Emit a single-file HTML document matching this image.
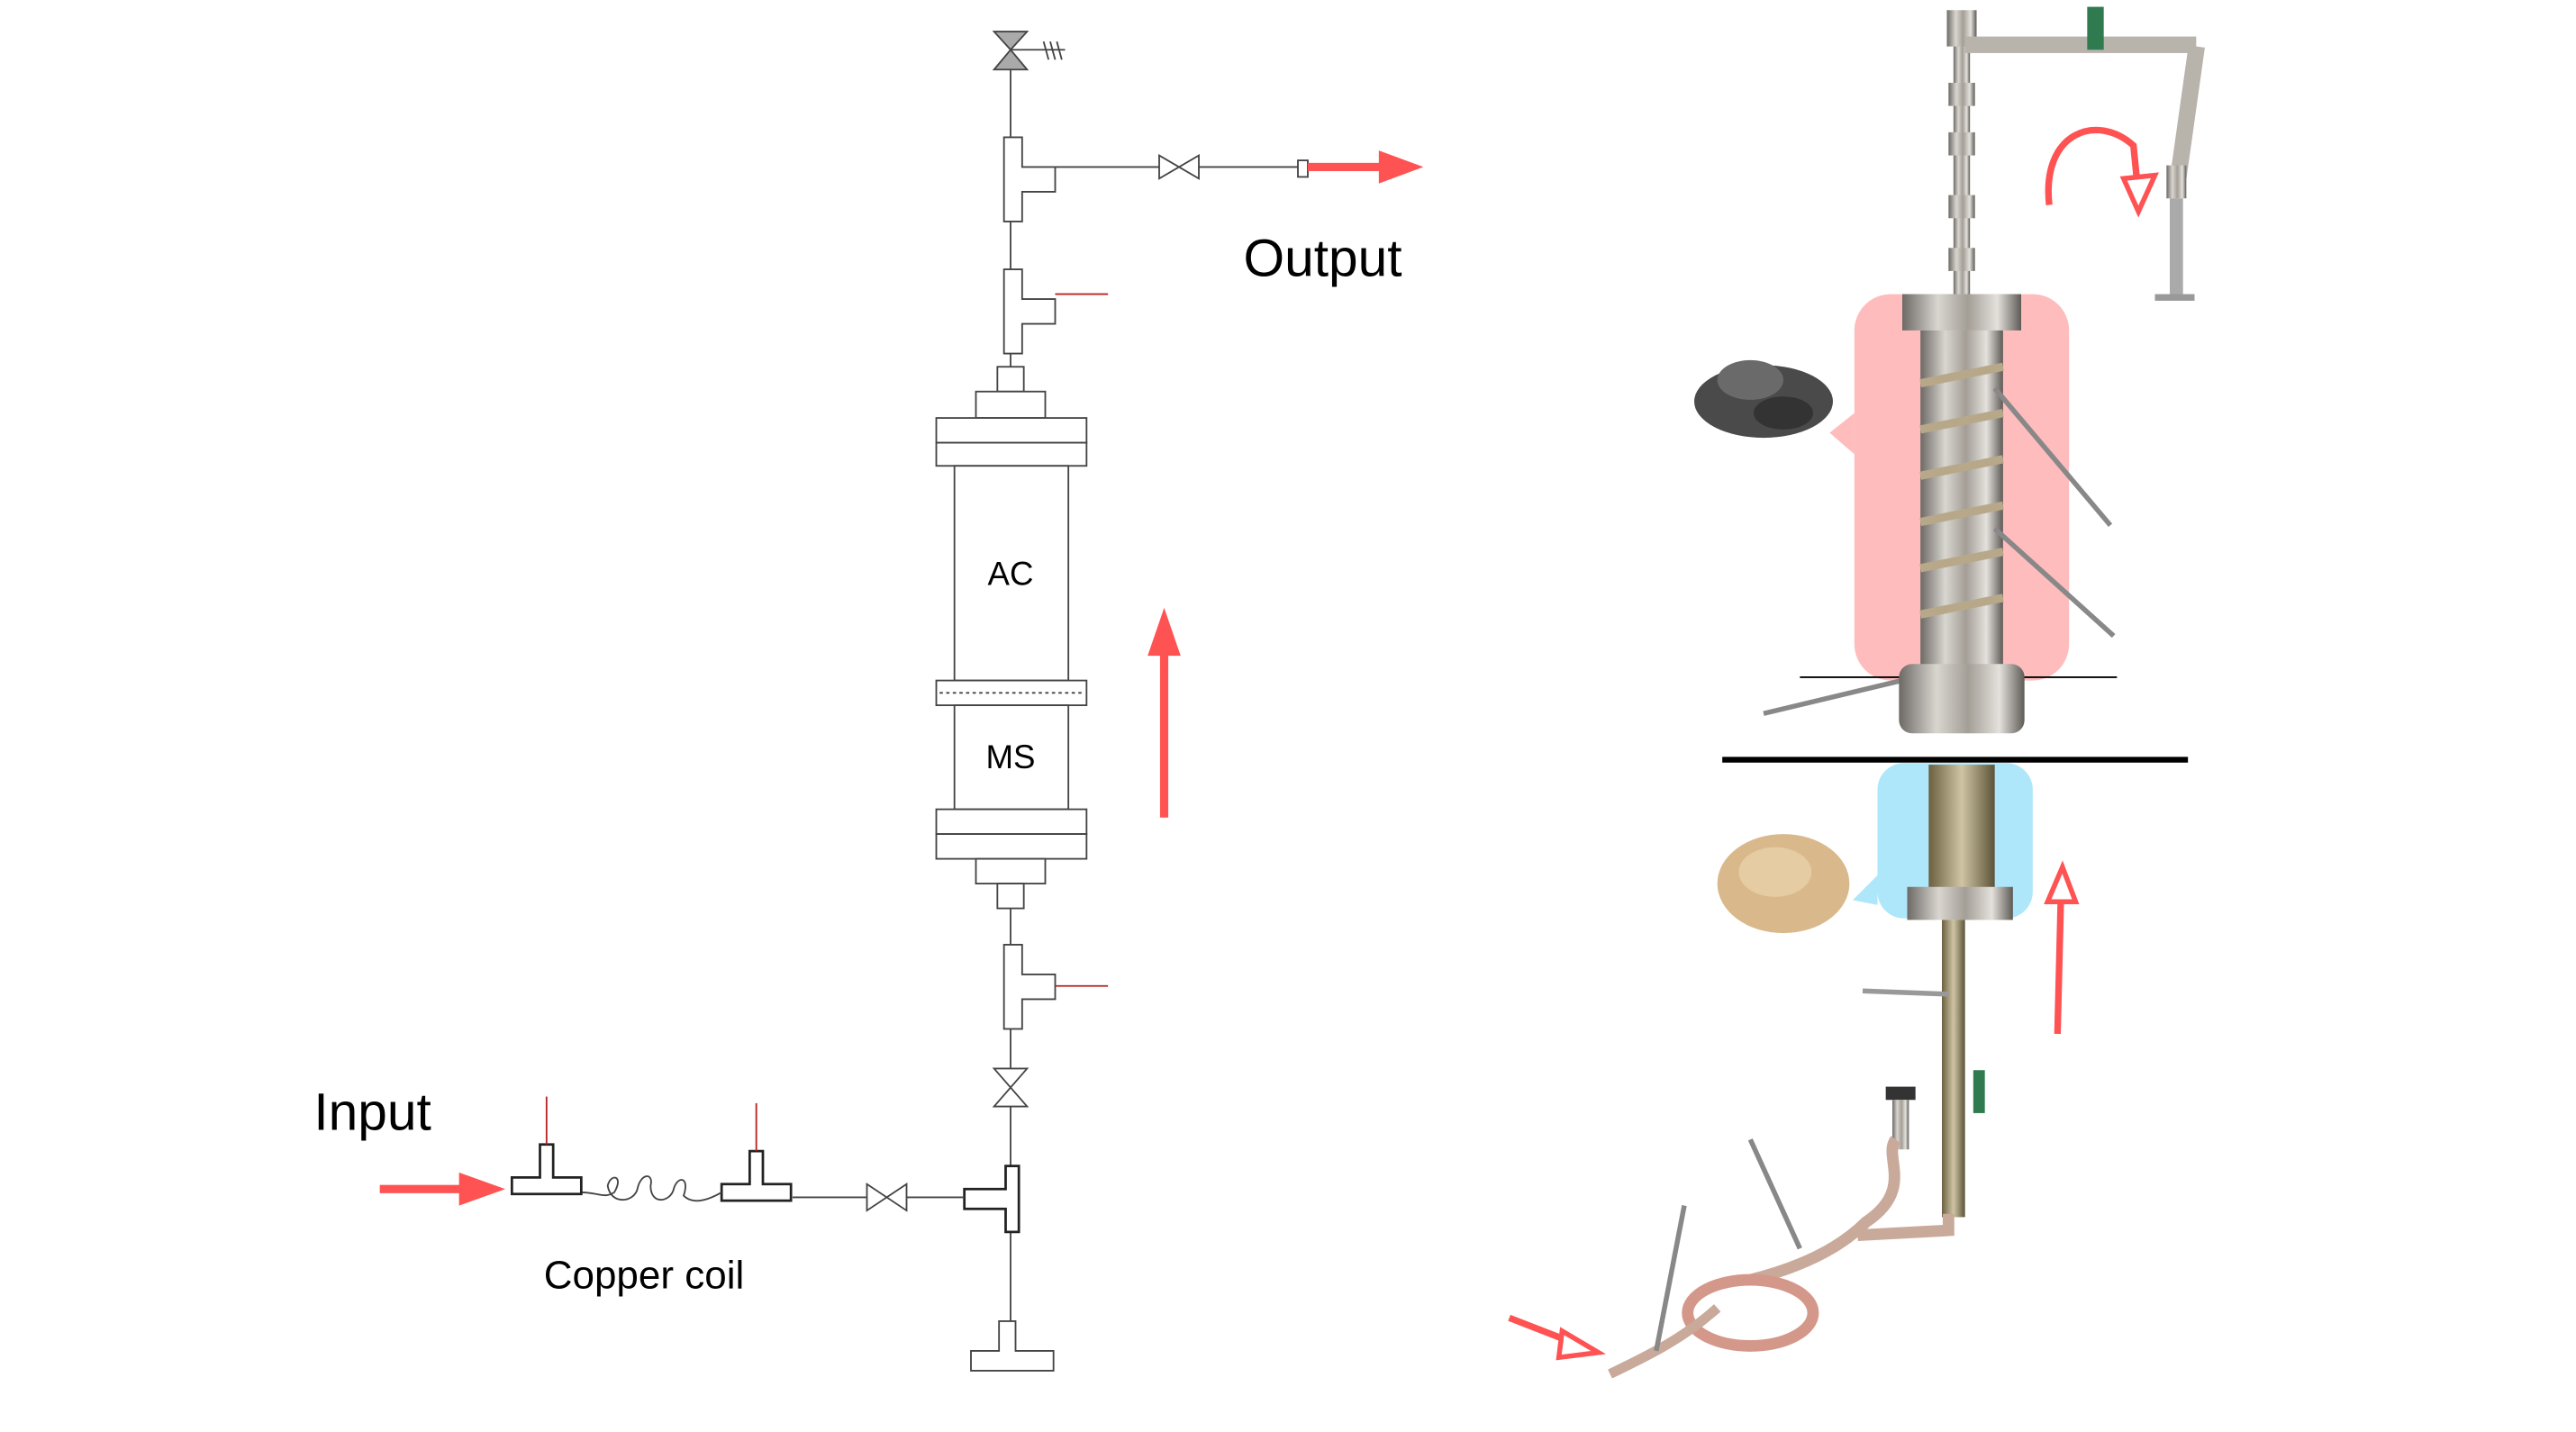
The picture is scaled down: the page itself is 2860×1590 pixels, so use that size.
<!DOCTYPE html>
<html><head><meta charset="utf-8">
<style>
html,body{margin:0;padding:0;background:#fff;}
svg{display:block;}
text{font-family:"Liberation Sans",sans-serif;}
</style></head>
<body>
<svg width="2860" height="1590" viewBox="0 0 1560 867" xmlns="http://www.w3.org/2000/svg">
<defs>
<linearGradient id="steel" x1="0" x2="1">
<stop offset="0" stop-color="#6d6a66"/><stop offset="0.3" stop-color="#d9d6d0"/><stop offset="0.55" stop-color="#a39e96"/><stop offset="0.8" stop-color="#e4e1dc"/><stop offset="1" stop-color="#5e5a55"/>
</linearGradient>
<linearGradient id="brass" x1="0" x2="1">
<stop offset="0" stop-color="#6b6040"/><stop offset="0.5" stop-color="#cfc5a5"/><stop offset="1" stop-color="#5d5438"/>
</linearGradient>
</defs>

<g fill="#fff" stroke="#444" stroke-width="1">
<!-- main vertical line -->
<line x1="612" y1="42" x2="612" y2="800"/>
<!-- top grey valve -->
<g>
<polygon points="602,19 622,19 612,30" fill="#aaa"/>
<polygon points="602,42 622,42 612,30" fill="#aaa"/>
<line x1="612" y1="30" x2="645" y2="30"/>
<line x1="632" y1="25" x2="635" y2="36"/><line x1="636" y1="25" x2="639" y2="36"/><line x1="640" y1="25" x2="643" y2="36"/>
</g>
<!-- T output -->
<path d="M608,83 h11 v18 h20 v15 h-20 v18 h-11 z"/>
<line x1="639" y1="101" x2="702" y2="101"/>
<g><polygon points="702,94 726,108 726,94 702,108"/></g>
<line x1="726" y1="101" x2="786" y2="101"/>
<rect x="786" y="97" width="6" height="10"/>
<g stroke="none" fill="#ff5252">
<rect x="792" y="98.5" width="50" height="5"/><polygon points="835,91 862,101 835,111"/>
</g>
<text x="753" y="167" font-size="32" fill="#000" stroke="none">Output</text>
<!-- T thermocouple top -->
<path d="M608,163 h11 v18 h20 v15 h-20 v18 h-11 z"/>
<line x1="639" y1="178" x2="671" y2="178" stroke="#b22"/>
<!-- column -->
<rect x="604" y="222" width="16" height="15"/>
<rect x="591" y="237" width="42" height="16"/>
<rect x="567" y="253" width="91" height="15"/>
<rect x="567" y="268" width="91" height="14"/>
<rect x="578" y="282" width="69" height="130"/>
<text x="612" y="354" font-size="20" text-anchor="middle" fill="#000" stroke="none">AC</text>
<rect x="567" y="412" width="91" height="15"/>
<line x1="569" y1="419.5" x2="656" y2="419.5" stroke-dasharray="2,2"/>
<rect x="578" y="427" width="69" height="63"/>
<text x="612" y="465" font-size="20" text-anchor="middle" fill="#000" stroke="none">MS</text>
<rect x="567" y="490" width="91" height="15"/>
<rect x="567" y="505" width="91" height="15"/>
<rect x="591" y="520" width="42" height="15"/>
<rect x="604" y="535" width="16" height="15"/>
<!-- bottom sensor T -->
<path d="M608,572 h11 v18 h20 v15 h-20 v18 h-11 z"/>
<line x1="639" y1="597" x2="671" y2="597" stroke="#b22"/>
<g><polygon points="602,647 622,647 602,670 622,670"/></g>
<!-- T inlet -->
<path d="M609,706 h8 v40 h-8 v-14 h-25 v-12 h25 z" stroke="#222" stroke-width="1.5"/>
<path d="M605,800 h10 v18 h23 v12 h-50 v-12 h17 z"/>
<!-- flow arrow -->
<g stroke="none" fill="#ff5252">
<rect x="702.5" y="392" width="5" height="103"/><polygon points="695,397 705,368 715,397"/>
</g>
<!-- input line -->
<line x1="549" y1="725" x2="584" y2="725"/>
<g><polygon points="525,717 549,733 549,717 525,733"/></g>
<line x1="480" y1="725" x2="525" y2="725"/>
<path d="M454,697 h8 v20 h17 v10 h-42 v-10 h17 z" stroke="#222" stroke-width="1.5"/>
<line x1="458" y1="668" x2="458" y2="697" stroke="#b22"/>
<path d="M352,722 C362,722 366,726 372,722 C378,712 370,710 368,718 C370,730 384,728 386,720 C388,710 396,710 394,718 C394,730 406,728 408,720 C410,712 418,712 414,724 C420,730 430,726 437,722" fill="none"/>
<path d="M327,693 h8 v20 h17 v10 h-42 v-10 h17 z" stroke="#222" stroke-width="1.5"/>
<line x1="331" y1="664" x2="331" y2="693" stroke="#b22"/>
<g stroke="none" fill="#ff5252">
<rect x="230" y="717.5" width="52" height="5"/><polygon points="278,710 306,720 278,730"/>
</g>
<text x="190" y="684" font-size="32" fill="#000" stroke="none">Input</text>
<text x="390" y="780" font-size="24" text-anchor="middle" fill="#000" stroke="none">Copper coil</text>
</g>

<!-- Photo panel -->
<g>
<rect x="1123" y="178" width="130" height="234" rx="22" fill="#ffbcbc"/>
<polygon points="1123,250 1108,262 1123,275" fill="#ffbcbc"/>
<rect x="1137" y="462" width="94" height="94" rx="16" fill="#aee6fa"/>
<polygon points="1137,530 1122,545 1137,548" fill="#aee6fa"/>
<line x1="1090" y1="410" x2="1282" y2="410" stroke="#000" stroke-width="1"/>
<line x1="1043" y1="460" x2="1325" y2="460" stroke="#000" stroke-width="3.5"/>
<!-- top tubing -->
<rect x="1183" y="10" width="10" height="170" fill="url(#steel)"/>
<rect x="1179" y="6" width="18" height="22" fill="url(#steel)"/>
<rect x="1180" y="50" width="16" height="14" fill="url(#steel)"/>
<rect x="1180" y="80" width="16" height="14" fill="url(#steel)"/>
<rect x="1180" y="118" width="16" height="14" fill="url(#steel)"/>
<rect x="1180" y="150" width="16" height="14" fill="url(#steel)"/>
<rect x="1190" y="22" width="140" height="10" fill="#b8b3ab"/>
<rect x="1264" y="4" width="10" height="26" fill="#2f7a4e"/>
<rect x="1325" y="28" width="10" height="80" fill="#b8b3ab" transform="rotate(8 1330 30)"/>
<rect x="1312" y="100" width="12" height="20" fill="url(#steel)"/>
<rect x="1314" y="120" width="8" height="60" fill="#aaa"/>
<rect x="1305" y="178" width="24" height="4" fill="#999"/>
<path d="M1241,124 C1236,80 1270,68 1292,88 L1294,108" fill="none" stroke="#ff5252" stroke-width="4"/>
<polygon points="1286,108 1305,106 1295,128" fill="#fff" stroke="#ff5252" stroke-width="3"/>
<!-- column -->
<rect x="1152" y="178" width="72" height="22" fill="url(#steel)"/>
<rect x="1163" y="200" width="50" height="205" fill="url(#steel)"/>
<g stroke="#b8a88a" stroke-width="5" fill="none">
<path d="M1163,232 L1213,222"/><path d="M1163,260 L1213,250"/><path d="M1163,288 L1213,278"/><path d="M1163,316 L1213,306"/><path d="M1163,344 L1213,334"/><path d="M1163,372 L1213,362"/>
</g>
<line x1="1208" y1="235" x2="1278" y2="318" stroke="#888" stroke-width="3"/>
<line x1="1208" y1="320" x2="1280" y2="385" stroke="#888" stroke-width="3"/>
<line x1="1160" y1="410" x2="1068" y2="432" stroke="#888" stroke-width="3"/>
<rect x="1150" y="402" width="76" height="42" rx="8" fill="url(#steel)"/>
<!-- lower column -->
<rect x="1168" y="463" width="40" height="80" fill="url(#brass)"/>
<rect x="1155" y="537" width="64" height="20" fill="url(#steel)"/>
<rect x="1176" y="557" width="14" height="180" fill="url(#brass)"/>
<line x1="1180" y1="602" x2="1128" y2="600" stroke="#999" stroke-width="3"/>
<rect x="1195" y="648" width="7" height="26" fill="#2f7a4e"/>
<rect x="1142" y="658" width="18" height="8" fill="#333"/>
<rect x="1146" y="666" width="10" height="30" fill="url(#steel)"/>
<path d="M1180,735 L1180,745 L1125,748 M1148,690 C1140,700 1160,720 1130,740 C1110,760 1080,770 1060,775" stroke="#c9a99a" stroke-width="7" fill="none"/>
<line x1="1090" y1="756" x2="1060" y2="690" stroke="#888" stroke-width="3"/>
<ellipse cx="1060" cy="795" rx="38" ry="20" fill="none" stroke="#d4988a" stroke-width="7"/>
<path d="M1040,792 C1020,810 1000,820 975,832" stroke="#c9a99a" stroke-width="6" fill="none"/>
<line x1="1003" y1="818" x2="1020" y2="730" stroke="#888" stroke-width="3"/>
<path d="M914,798 L950,812" stroke="#ff5252" stroke-width="4"/>
<polygon points="946,806 968,819 944,822" fill="#fff" stroke="#ff5252" stroke-width="3"/>
<path d="M1246,626 L1248,545" stroke="#ff5252" stroke-width="4"/>
<polygon points="1240,546 1249,525 1257,546" fill="#fff" stroke="#ff5252" stroke-width="3"/>
<!-- pellets -->
<g fill="#4a4a4a">
<ellipse cx="1068" cy="243" rx="42" ry="22"/>
<ellipse cx="1060" cy="230" rx="20" ry="12" fill="#6a6a6a"/>
<ellipse cx="1080" cy="250" rx="18" ry="10" fill="#333"/>
</g>
<g fill="#d9b98c">
<ellipse cx="1080" cy="535" rx="40" ry="30"/>
<ellipse cx="1075" cy="528" rx="22" ry="15" fill="#e6cca3"/>
</g>
</g>
</svg>
</body></html>
